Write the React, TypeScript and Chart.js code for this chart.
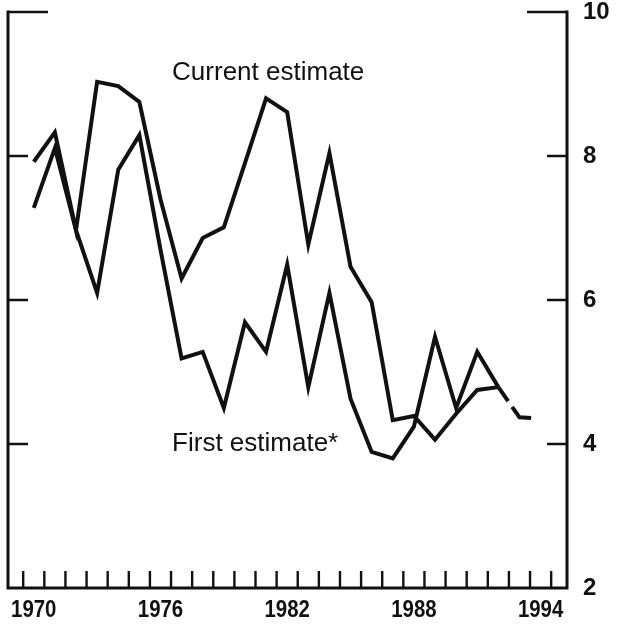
import React, { useEffect, useRef } from "react";
import { Chart, registerables } from "chart.js";

Chart.register(...registerables);

// ---- data ----
const years = [
  1970, 1971, 1972, 1973, 1974, 1975, 1976, 1977, 1978, 1979, 1980, 1981,
  1982, 1983, 1984, 1985, 1986, 1987, 1988, 1989, 1990, 1991, 1992,
];
const currentEstimate = [
  7.92, 8.33, 6.97, 9.03, 8.97, 8.75, 7.4, 6.3, 6.86, 7.01, 7.9, 8.8, 8.61,
  6.77, 8.04, 6.46, 5.97, 4.33, 4.39, 4.06, 4.42, 4.75, 4.79,
];
const firstEstimate = [
  7.28, 8.11, 6.97, 6.1, 7.81, 8.29, 6.7, 5.19, 5.28, 4.5, 5.69, 5.28, 6.49,
  4.79, 6.1, 4.63, 3.89, 3.8, 4.24, 5.49, 4.5, 5.28, 4.79,
];
const projectionYears = [1992, 1993, 1993.55];
const projectionValues = [4.79, 4.37, 4.36];

const xTickLabels = [1970, 1976, 1982, 1988, 1994];
const xTickMarks = [
  1969.5, 1970.5, 1971.5, 1972.5, 1973.5, 1974.5, 1975.5, 1976.5, 1977.5,
  1978.5, 1979.5, 1980.5, 1981.5, 1982.5, 1983.5, 1984.5, 1985.5, 1986.5,
  1987.5, 1988.5, 1989.5, 1990.5, 1991.5, 1992.5, 1993.5, 1994.5,
];
const yTickValues = [2, 4, 6, 8, 10];
const seriesLabels = ["Current estimate", "First estimate*"];
// label anchor positions in data units (left edge x, vertical centre y)
const labelAnchors = [
  { x: 1976.55, y: 9.15 },
  { x: 1976.55, y: 4.0 },
];

const INK = "#111111";
const FONT = "'Liberation Sans', Arial, Helvetica, sans-serif";

const framePlugin = {
  id: "frame",
  afterDatasetsDraw(chart: any) {
    const { ctx, chartArea: a, scales } = chart;
    const xs = scales.x;
    const ys = scales.y;
    ctx.save();
    ctx.strokeStyle = INK;
    ctx.lineCap = "butt";

    // frame: left, right, bottom
    ctx.lineWidth = 3;
    ctx.beginPath();
    ctx.moveTo(a.left, a.top - 1.5);
    ctx.lineTo(a.left, a.bottom);
    ctx.lineTo(a.right, a.bottom);
    ctx.lineTo(a.right, a.top - 1.5);
    ctx.stroke();

    // y ticks, inward on both sides
    ctx.lineWidth = 2.6;
    yTickValues.forEach((v) => {
      if (v === ys.min) return;
      const py = ys.getPixelForValue(v);
      const len = v === ys.max ? 40 : 20;
      ctx.beginPath();
      ctx.moveTo(a.left, py);
      ctx.lineTo(a.left + len, py);
      ctx.moveTo(a.right, py);
      ctx.lineTo(a.right - len, py);
      ctx.stroke();
    });

    // x ticks, inward at year boundaries
    ctx.lineWidth = 2.4;
    xTickMarks.forEach((v) => {
      const px = xs.getPixelForValue(v);
      ctx.beginPath();
      ctx.moveTo(px, a.bottom);
      ctx.lineTo(px, a.bottom - 17);
      ctx.stroke();
    });

    // x tick labels (narrow bold, as in the reference), at the scale's tick positions
    ctx.fillStyle = INK;
    ctx.font = `bold 24px ${FONT}`;
    ctx.textAlign = "center";
    ctx.textBaseline = "alphabetic";
    xs.ticks.forEach((t: any) => {
      const px = xs.getPixelForValue(t.value);
      ctx.save();
      ctx.translate(px, a.bottom + 29);
      ctx.scale(0.85, 1);
      ctx.fillText(String(t.value), 0, 0);
      ctx.restore();
    });

    // series labels
    ctx.font = `26px ${FONT}`;
    ctx.textAlign = "left";
    ctx.textBaseline = "middle";
    seriesLabels.forEach((t, i) => {
      const p = labelAnchors[i];
      ctx.fillText(t, xs.getPixelForValue(p.x), ys.getPixelForValue(p.y));
    });
    ctx.restore();
  },
};

export default function App() {
  const canvasRef = useRef<HTMLCanvasElement | null>(null);

  useEffect(() => {
    if (!canvasRef.current) return;
    const lineStyle = {
      borderColor: INK,
      borderWidth: 4,
      pointRadius: 0,
      tension: 0,
      fill: false,
      borderJoinStyle: "miter" as const,
    };
    const chart = new Chart(canvasRef.current, {
      type: "line",
      data: {
        datasets: [
          {
            label: seriesLabels[0],
            data: years.map((x, i) => ({ x, y: currentEstimate[i] })),
            ...lineStyle,
          },
          {
            label: seriesLabels[1],
            data: years.map((x, i) => ({ x, y: firstEstimate[i] })),
            ...lineStyle,
          },
          {
            label: "Projection",
            data: projectionYears.map((x, i) => ({ x, y: projectionValues[i] })),
            ...lineStyle,
            borderDash: [17, 7, 40, 7],
          },
        ],
      },
      options: {
        animation: false,
        responsive: true,
        maintainAspectRatio: false,
        layout: { padding: { left: 8, top: 12, right: 0, bottom: 0 } },
        plugins: {
          legend: { display: false },
          tooltip: { enabled: false },
        },
        scales: {
          x: {
            type: "linear",
            min: 1968.78,
            max: 1995.25,
            grid: { display: false, drawTicks: false },
            border: { display: false },
            afterBuildTicks: (s: any) => {
              s.ticks = xTickLabels.map((v) => ({ value: v }));
            },
            afterFit: (s: any) => {
              s.height = 36;
              s.paddingLeft = 0;
              s.paddingRight = 0;
            },
            ticks: {
              display: false,
              autoSkip: false,
              maxRotation: 0,
            },
          },
          y: {
            type: "linear",
            position: "right",
            min: 2,
            max: 10,
            grid: { display: false, drawTicks: false },
            border: { display: false },
            afterBuildTicks: (s: any) => {
              s.ticks = yTickValues.map((v) => ({ value: v }));
            },
            afterFit: (s: any) => {
              s.width = 52;
              s.paddingTop = 0;
              s.paddingBottom = 0;
            },
            ticks: {
              padding: 16,
              color: INK,
              font: { family: FONT, size: 24, weight: "bold" },
              callback: (v: any) => String(v),
            },
          },
        },
      },
      plugins: [framePlugin],
    });
    return () => chart.destroy();
  }, []);

  return (
    <div
      style={{
        position: "absolute",
        left: 0,
        top: 0,
        width: 619,
        height: 624,
        background: "#ffffff",
      }}
    >
      <canvas ref={canvasRef} />
    </div>
  );
}
